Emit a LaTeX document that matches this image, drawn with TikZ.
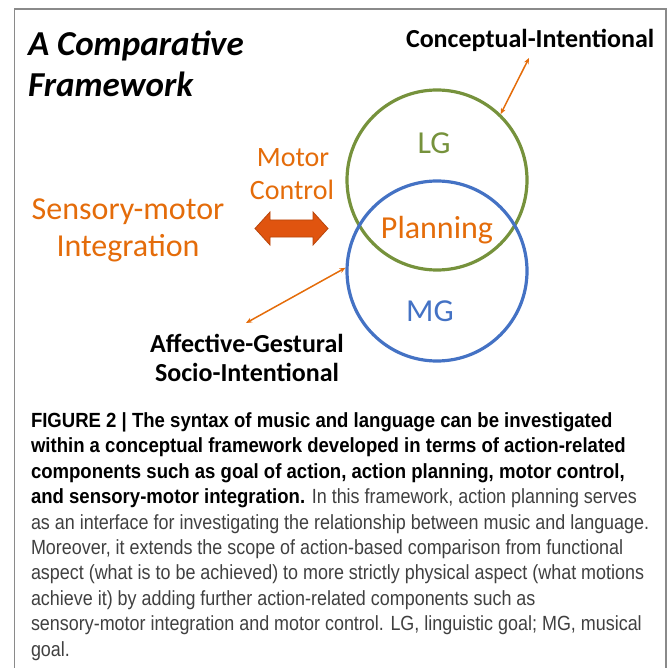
\documentclass[tikz,border=0pt]{standalone}
\usepackage{fontspec}
\newfontfamily\calfont{Carlito}
\newfontfamily\capfont[FakeStretch=0.875]{Liberation Sans}
\newfontfamily\capbold[FakeStretch=0.905]{Liberation Sans Bold}
\usetikzlibrary{arrows.meta,calc}
\definecolor{lggreen}{HTML}{76923C}
\definecolor{mgblue}{HTML}{4472C4}
\definecolor{txtorange}{HTML}{E46C0A}
\definecolor{arrorange}{HTML}{E0540F}
\definecolor{arredge}{HTML}{B8460C}
\definecolor{framegray}{HTML}{8A8A8A}
\definecolor{capgray}{HTML}{404040}
\newcommand{\capb}[1]{{\capbold\color{black}#1}}
\tikzset{
  lbl/.style={inner sep=0pt, outer sep=0pt},
  ring/.style={circle, line width=3.2pt, minimum size=180pt, inner sep=0pt},
  thinarr/.style={draw=txtorange, line width=1.5pt, {Stealth[length=6pt,width=5pt]}-{Stealth[length=6pt,width=5pt]}},
  otext/.style={lbl, text=txtorange, font=\calfont\fontsize{32}{36}\selectfont},
  btext/.style={lbl, font=\calfont\bfseries\fontsize{26}{30}\selectfont},
}
\begin{document}
\begin{tikzpicture}[x=1pt,y=-1pt]
\useasboundingbox (0,0) rectangle (671,668);
% frame
\draw[framegray, line width=1.5pt] (14.5,700) -- (14.5,9) -- (666,9) -- (666,700);
% title
\node[lbl, anchor=base west, font=\calfont\bfseries\itshape\fontsize{35}{40}\selectfont] (t1) at (28,56) {A Comparative};
\node[lbl, anchor=base west, font=\calfont\bfseries\itshape\fontsize{35}{40}\selectfont] (t2) at (28,97) {Framework};
% circles
\node[ring, draw=lggreen] (lg) at (437,180) {};
\node[ring, draw=mgblue] (mg) at (437,271) {};
\node[lbl, anchor=base, text=lggreen, font=\calfont\fontsize{32}{36}\selectfont] (lgt) at (434,154) {LG};
\node[otext, anchor=base] (plan) at (437,238) {Planning};
\node[lbl, anchor=base, text=mgblue, font=\calfont\fontsize{32}{36}\selectfont] (mgt) at (430,321) {MG};
% motor control
\node[lbl, anchor=base, text=txtorange, font=\calfont\fontsize{28}{32}\selectfont] (mot) at (293,167) {Motor};
\node[lbl, anchor=base, text=txtorange, font=\calfont\fontsize{28}{32}\selectfont] (ctl) at (292,200) {Control};
\node[otext, anchor=base] (sm) at (128,219) {Sensory-motor};
\node[otext, anchor=base] (integ) at (128,256) {Integration};
% block arrow
\coordinate (ba) at (291.5,228.5);
\draw[arredge, fill=arrorange, line width=0.8pt, line join=miter]
  ($(ba)+(-36.5,0)$) -- ($(ba)+(-21.5,-16.5)$) -- ($(ba)+(-21.5,-8.5)$) -- ($(ba)+(21.5,-8.5)$) -- ($(ba)+(21.5,-16.5)$) -- ($(ba)+(36.5,0)$) -- ($(ba)+(21.5,16.5)$) -- ($(ba)+(21.5,8.5)$) -- ($(ba)+(-21.5,8.5)$) -- ($(ba)+(-21.5,16.5)$) -- cycle;
% black labels
\node[btext, anchor=base west] (ci) at (406,48) {Conceptual-Intentional};
\node[btext, anchor=base] (ag1) at (247,352) {Affective-Gestural};
\node[btext, anchor=base] (ag2) at (247,381) {Socio-Intentional};
% thin arrows
\coordinate (ciend) at (529,58);
\coordinate (agend) at (246,323);
\draw[thinarr] (ciend) -- (lg.46);
\draw[thinarr] (agend) -- (mg.178);
% caption
\node[lbl, anchor=base west, align=left, text=capgray, font=\capfont\fontsize{20.5}{25.4}\selectfont] (cap) at (31,656)
{\capb{FIGURE 2 | The syntax of music and language can be investigated}\\
\capb{within a conceptual framework developed in terms of action-related}\\
\capb{components such as goal of action, action planning, motor control,}\\
\capb{and sensory-motor integration.} In this framework, action planning serves\\
as an interface for investigating the relationship between music and language.\\
Moreover, it extends the scope of action-based comparison from functional\\
aspect (what is to be achieved) to more strictly physical aspect (what motions\\
achieve it) by adding further action-related components such as\\
sensory-motor integration and motor control. LG, linguistic goal; MG, musical\\
goal.};
\end{tikzpicture}
\end{document}
